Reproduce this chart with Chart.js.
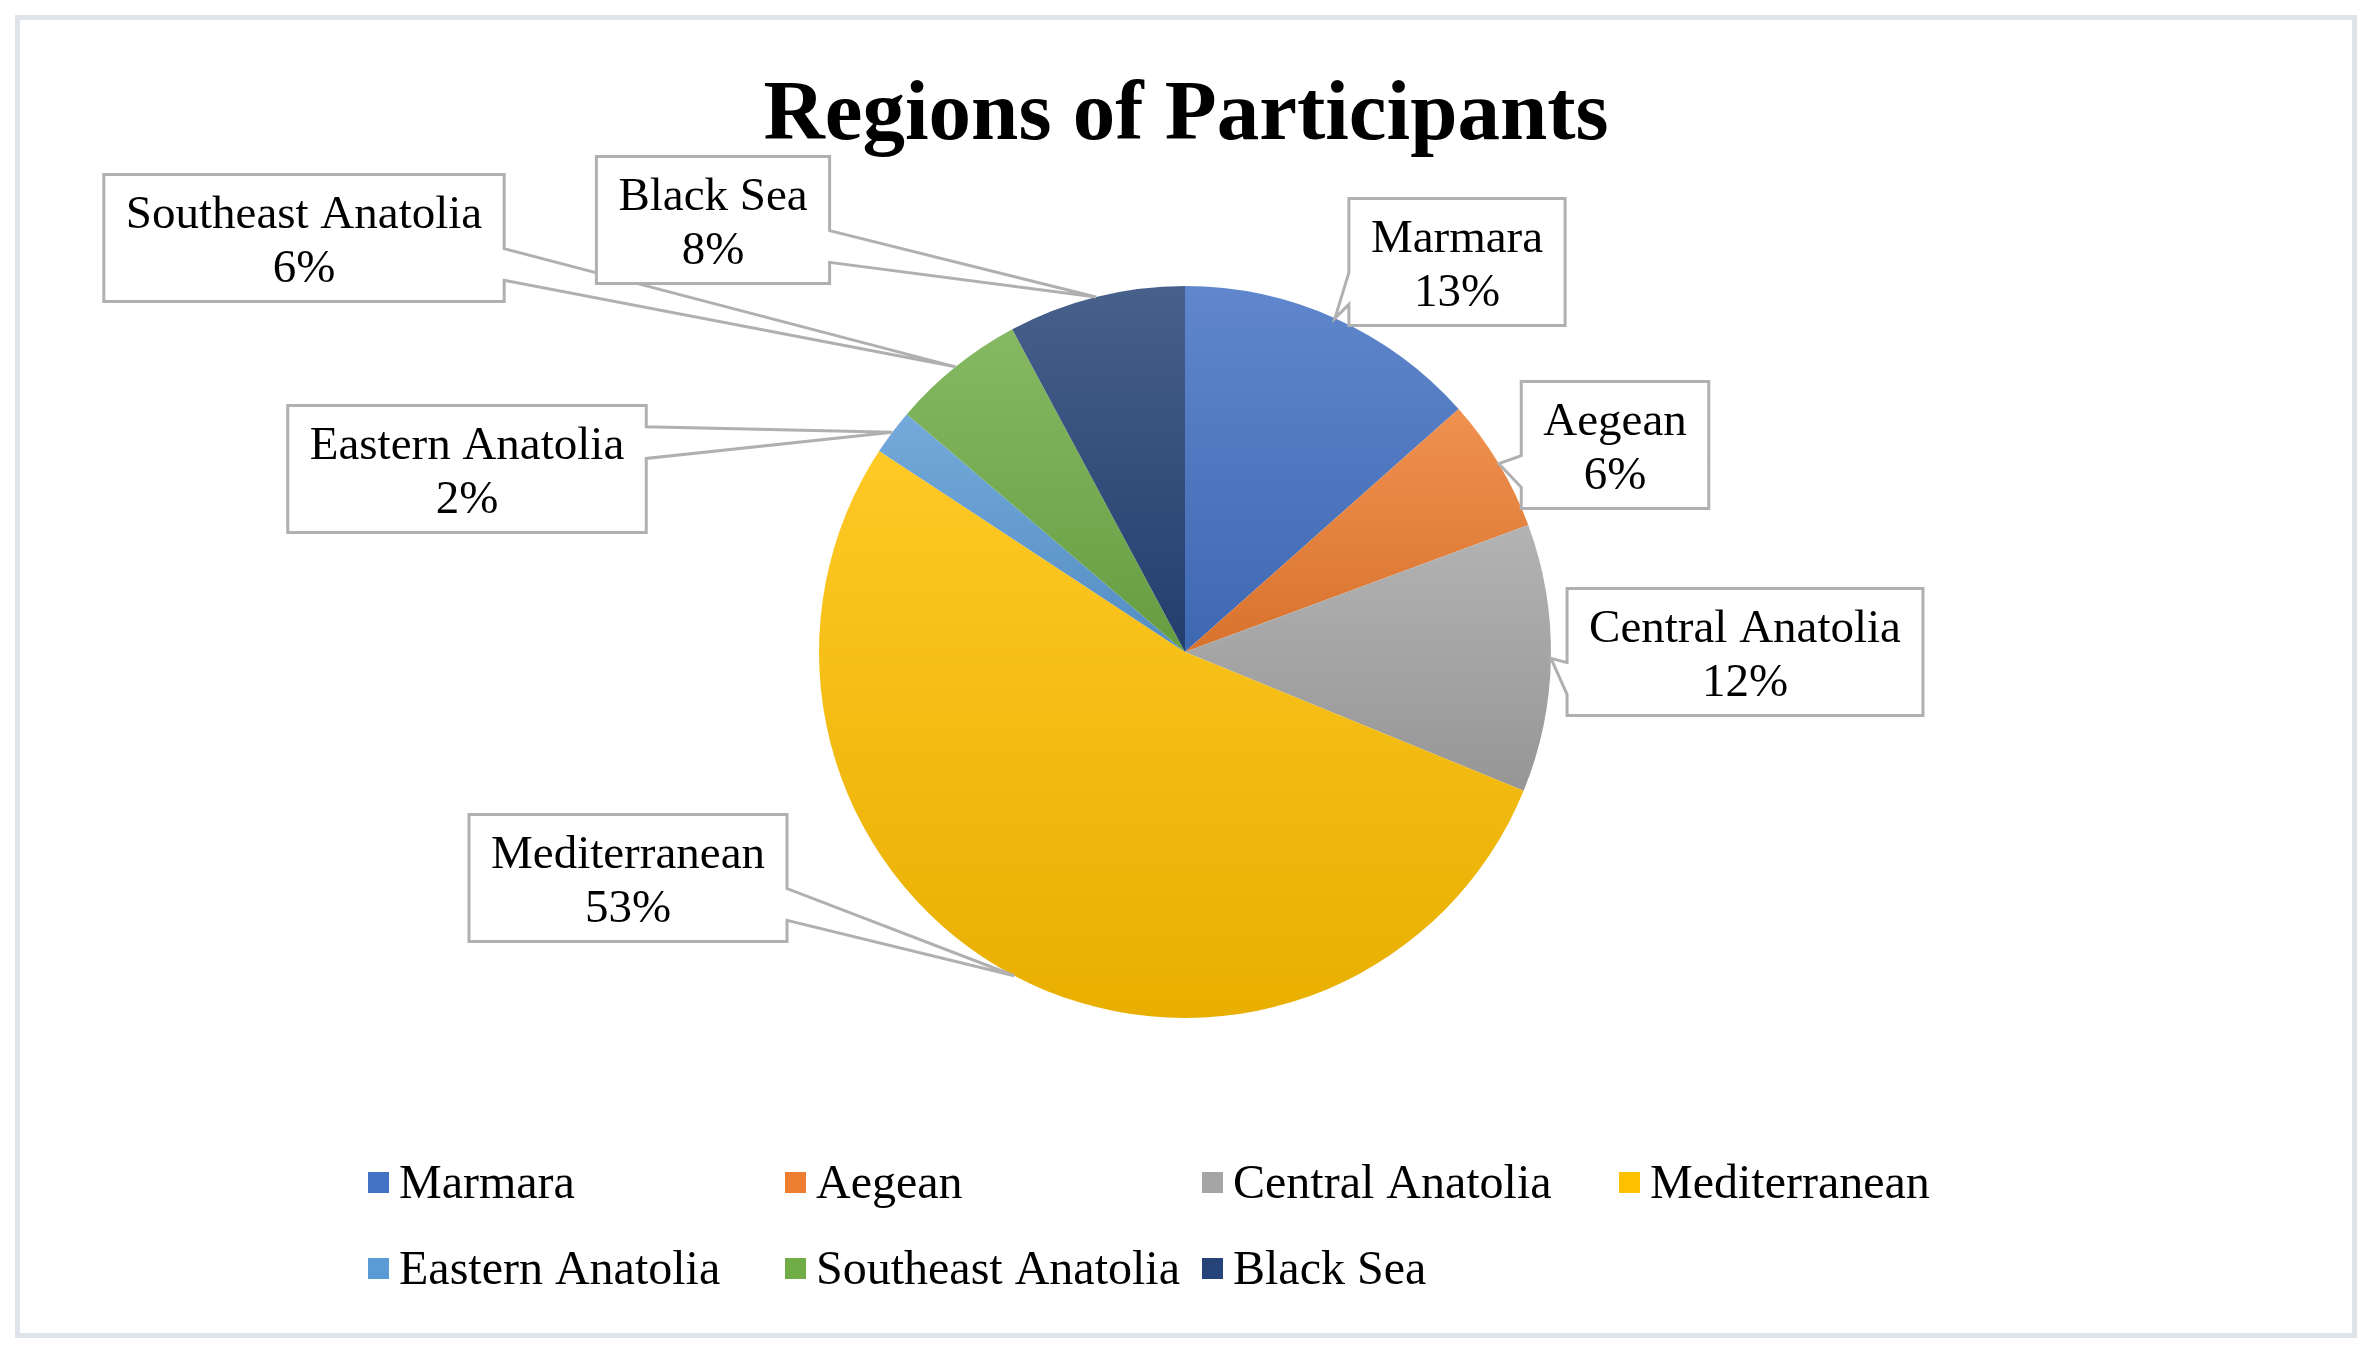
<!DOCTYPE html>
<html>
<head>
<meta charset="utf-8">
<script src="https://cdn.jsdelivr.net/npm/chart.js@4/dist/chart.umd.min.js"></script>
<style>
  html, body { margin: 0; padding: 0; background: #fff; }
  #wrap { width: 2372px; height: 1353px; }
</style>
</head>
<body>
<div id="wrap"><canvas id="pie" width="2372" height="1353"></canvas></div>
<script>
// chart data (shares, in %)
const regions = ['Marmara', 'Aegean', 'Central Anatolia', 'Mediterranean', 'Eastern Anatolia', 'Southeast Anatolia', 'Black Sea']
const shares = [13.4, 5.9, 11.8, 52.9, 2.0, 5.9, 7.8]
const chartTitle = 'Regions of Participants'

// Office palette
const sliceColors = ['#4472C4', '#ED7D31', '#A5A5A5', '#FFC000', '#5B9BD5', '#70AD47', '#264478']

// callout box centres, as offsets from the pie centre
const calloutOffsets = [[272, -390], [430, -207], [560, 0], [-557, 226], [-718, -183], [-881, -414], [-472, -432]]

const serif = "'Liberation Serif', 'Times New Roman', serif"
const labelFont = '47px ' + serif
const legendFont = '48px ' + serif

function mix(hex, target, t) {
  const n = parseInt(hex.slice(1), 16)
  const c = [(n >> 16) & 255, (n >> 8) & 255, n & 255].map(v => Math.round(v + (target - v) * t))
  return 'rgb(' + c.join(',') + ')'
}

// vertical gradient over each slice's own extent, like the Office chart style
function sliceFill(ctx) {
  const chart = ctx.chart
  const area = chart.chartArea
  const i = ctx.dataIndex
  if (!area || i === undefined) return sliceColors[i] || '#ccc'
  const total = shares.reduce((a, b) => a + b, 0)
  let before = 0
  for (let k = 0; k < i; k++) before += shares[k]
  const a0 = -Math.PI / 2 + 2 * Math.PI * before / total
  const a1 = a0 + 2 * Math.PI * shares[i] / total
  const cy = (area.top + area.bottom) / 2
  const r = Math.min(area.width, area.height) / 2
  const ys = [cy, cy + r * Math.sin(a0), cy + r * Math.sin(a1)]
  for (const a of [-Math.PI / 2, Math.PI / 2, 1.5 * Math.PI]) {
    if (a >= a0 && a <= a1) ys.push(cy + r * Math.sin(a))
  }
  const g = chart.ctx.createLinearGradient(0, Math.min(...ys), 0, Math.max(...ys))
  g.addColorStop(0, mix(sliceColors[i], 255, 0.15))
  g.addColorStop(1, mix(sliceColors[i], 0, 0.09))
  return g
}

// wedge rectangle callout (same rules as the Office preset shape)
function calloutPath(c, l, t, w, h, tx, ty) {
  const r = l + w, b = t + h
  const dx = tx - (l + w / 2), dy = ty - (t + h / 2)
  const vertical = Math.abs(dy) - Math.abs(dx * h / w) > 0
  const x1 = l + w * (dx > 0 ? 7 : 2) / 12, x2 = l + w * (dx > 0 ? 10 : 5) / 12
  const y1 = t + h * (dy > 0 ? 7 : 2) / 12, y2 = t + h * (dy > 0 ? 10 : 5) / 12
  c.beginPath()
  c.moveTo(l, t)
  if (vertical && dy < 0) { c.lineTo(x1, t); c.lineTo(tx, ty); c.lineTo(x2, t) }
  c.lineTo(r, t)
  if (!vertical && dx > 0) { c.lineTo(r, y1); c.lineTo(tx, ty); c.lineTo(r, y2) }
  c.lineTo(r, b)
  if (vertical && dy > 0) { c.lineTo(x2, b); c.lineTo(tx, ty); c.lineTo(x1, b) }
  c.lineTo(l, b)
  if (!vertical && dx < 0) { c.lineTo(l, y2); c.lineTo(tx, ty); c.lineTo(l, y1) }
  c.closePath()
}

const decor = {
  id: 'decor',
  beforeDraw(chart) {
    const c = chart.ctx
    c.save()
    c.fillStyle = '#fff'
    c.fillRect(0, 0, chart.width, chart.height)
    c.strokeStyle = '#dfe3ea'
    c.lineWidth = 5
    c.strokeRect(17.5, 17.5, chart.width - 35, chart.height - 35)
    c.restore()
  },
  afterDraw(chart) {
    const c = chart.ctx
    const total = shares.reduce((a, b) => a + b, 0)
    c.save()

    // title
    c.fillStyle = '#000'
    c.font = 'bold 85px ' + serif
    c.textAlign = 'center'
    c.textBaseline = 'alphabetic'
    c.fillText(chartTitle, 1186, 139)

    // data callouts
    const meta = chart.getDatasetMeta(0)
    c.font = labelFont
    meta.data.forEach((arc, i) => {
      const p = arc.getProps(['x', 'y', 'startAngle', 'endAngle', 'outerRadius'], true)
      const mid = (p.startAngle + p.endAngle) / 2
      const tx = p.x + Math.cos(mid) * p.outerRadius
      const ty = p.y + Math.sin(mid) * p.outerRadius
      const pct = Math.round(shares[i] / total * 100) + '%'
      const w = Math.max(c.measureText(regions[i]).width, c.measureText(pct).width) + 44
      const h = 127
      const cx = p.x + calloutOffsets[i][0], cy = p.y + calloutOffsets[i][1]
      calloutPath(c, cx - w / 2, cy - h / 2, w, h, tx, ty)
      c.fillStyle = '#fff'
      c.fill()
      c.strokeStyle = '#b0b0b0'
      c.lineWidth = 3
      c.lineJoin = 'miter'
      c.stroke()
      c.fillStyle = '#000'
      c.fillText(regions[i], cx, cy - 10)
      c.fillText(pct, cx, cy + 44)
    })

    // legend in a fixed grid, four per row
    c.font = legendFont
    c.textAlign = 'left'
    regions.forEach((name, i) => {
      const x = 368 + (i % 4) * 417
      const y = 1183 + Math.floor(i / 4) * 86
      c.fillStyle = sliceColors[i]
      c.fillRect(x, y - 11, 21, 21)
      c.fillStyle = '#000'
      c.fillText(name, x + 31, y + 15)
    })
    c.restore()
  }
}

new Chart(document.getElementById('pie'), {
  type: 'pie',
  data: {
    labels: regions,
    datasets: [{
      data: shares,
      backgroundColor: sliceFill,
      borderWidth: 0
    }]
  },
  options: {
    responsive: false,
    animation: false,
    layout: { padding: { top: 286, bottom: 335, left: 819, right: 821 } },
    plugins: {
      legend: { display: false },
      title: { display: false },
      tooltip: { enabled: false }
    }
  },
  plugins: [decor]
})
</script>
</body>
</html>
